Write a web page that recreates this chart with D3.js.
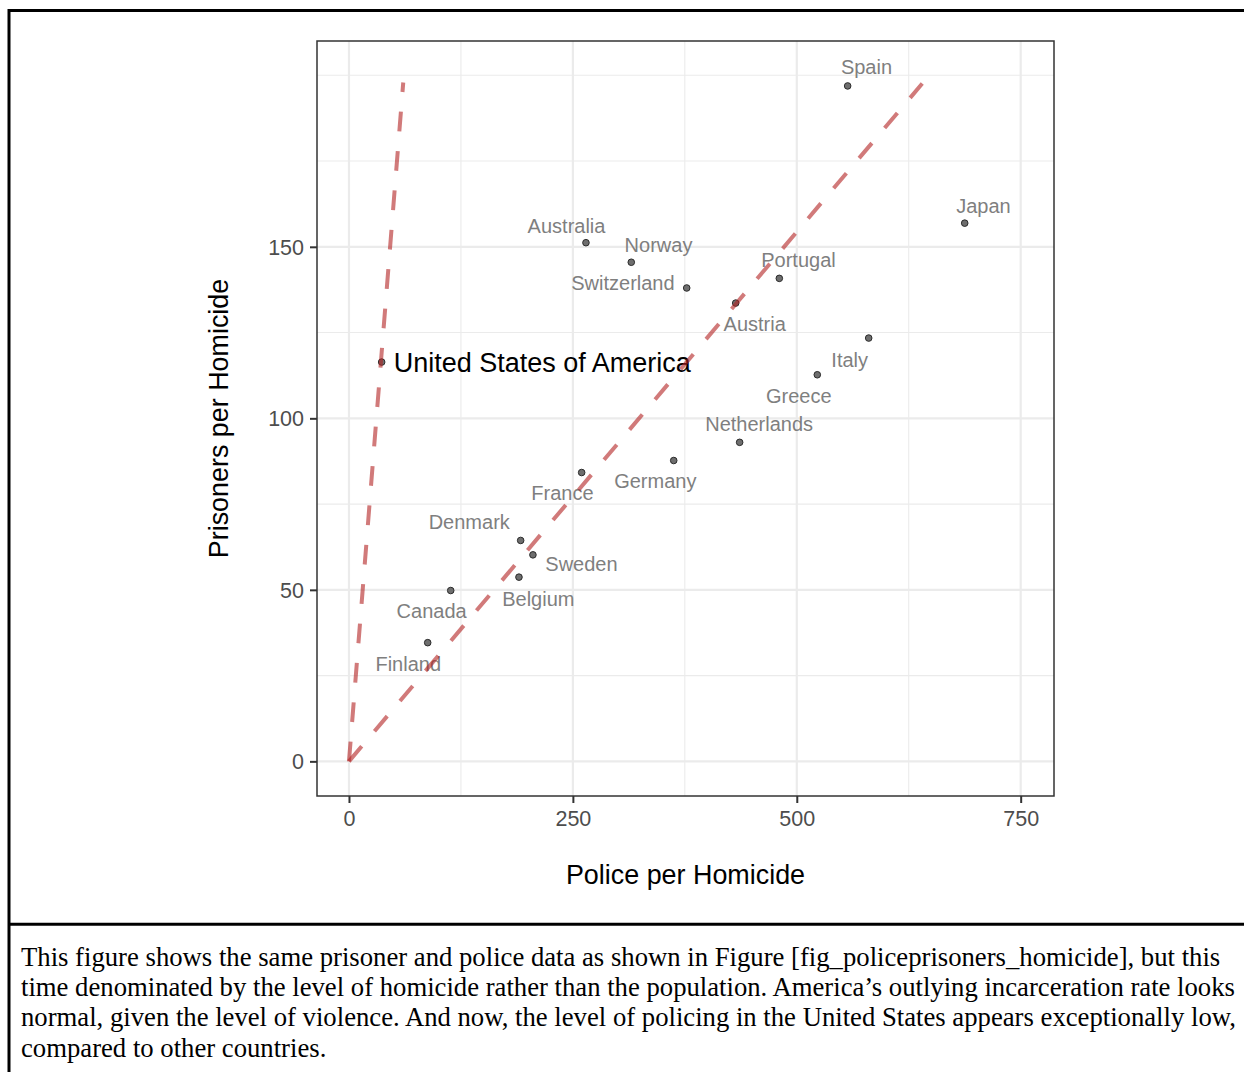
<!DOCTYPE html>
<html>
<head>
<meta charset="utf-8">
<script src="https://cdn.jsdelivr.net/npm/d3@7"></script>
<style>
  html, body { margin: 0; padding: 0; background: #fff; }
  svg { display: block; }
</style>
</head>
<body>
<script>
// ---- data ----
const countries = ["Spain","Japan","Australia","Norway","Switzerland","Portugal","Austria",
  "United States of America","Italy","Greece","Netherlands","Germany","France","Denmark",
  "Sweden","Belgium","Canada","Finland"];
const policePerHomicide = [556.8, 687.5, 264.6, 315.2, 377.1, 480.5, 431.8, 36.5, 580.3, 522.9,
  436.2, 362.6, 259.8, 191.7, 205.4, 189.8, 113.6, 87.9];
const prisonersPerHomicide = [196.9, 156.9, 151.2, 145.5, 138.0, 140.8, 133.6, 116.4, 123.4, 112.7,
  93.0, 87.7, 84.2, 64.4, 60.2, 53.7, 49.8, 34.6];
// repelled label anchors (data units)
const labelX = [577.8, 708.5, 242.9, 345.6, 305.9, 501.9, 453.0, 215.8, 559.1, 502.2,
  458.0, 342.0, 238.4, 134.3, 259.6, 211.4, 92.3, 66.2];
const labelY = [200.3, 159.9, 154.1, 148.4, 137.4, 144.0, 125.6, 113.4, 115.0, 104.5,
  96.3, 79.6, 76.1, 67.6, 55.5, 45.4, 41.7, 26.4];
// reference rays from the origin
const rayEndX = [60.6, 640.1];
const rayEndY = [197.9, 197.6];
const xTicks = [0, 250, 500, 750];
const yTicks = [0, 50, 100, 150];
const xMinor = [125, 375, 625];
const yMinor = [25, 75, 125, 175, 200];
const xTitle = "Police per Homicide";
const yTitle = "Prisoners per Homicide";
const highlight = "United States of America";
const captionLines = [
  "This figure shows the same prisoner and police data as shown in Figure [fig_policeprisoners_homicide], but this",
  "time denominated by the level of homicide rather than the population. America\u2019s outlying incarceration rate looks",
  "normal, given the level of violence. And now, the level of policing in the United States appears exceptionally low,",
  "compared to other countries."
];

// ---- layout ----
const W = 1244, H = 1072;
const panel = {left: 317, right: 1054, top: 41, bottom: 796};
const sans = "'Liberation Sans', Arial, sans-serif";

const svg = d3.select("body").append("svg").attr("width", W).attr("height", H);

const x = d3.scaleLinear().domain([-35.7, 787.2]).range([panel.left, panel.right]);
const y = d3.scaleLinear().domain([-10.1, 210.0]).range([panel.bottom, panel.top]);

// frame around figure + caption
svg.append("line").attr("x1", 9).attr("x2", W + 5).attr("y1", 10.5).attr("y2", 10.5)
  .attr("stroke", "#000").attr("stroke-width", 3);
svg.append("line").attr("x1", 9).attr("x2", 9).attr("y1", 9).attr("y2", H + 5)
  .attr("stroke", "#000").attr("stroke-width", 3);
svg.append("line").attr("x1", 9).attr("x2", W + 5).attr("y1", 924.3).attr("y2", 924.3)
  .attr("stroke", "#000").attr("stroke-width", 3);

// panel background
svg.append("rect").attr("x", panel.left).attr("y", panel.top)
  .attr("width", panel.right - panel.left).attr("height", panel.bottom - panel.top)
  .attr("fill", "#fff");

const grid = svg.append("g");
// minor grid
grid.selectAll(".xminor").data(xMinor).join("line")
  .attr("x1", d => x(d)).attr("x2", d => x(d)).attr("y1", panel.top).attr("y2", panel.bottom)
  .attr("stroke", "#ebebeb").attr("stroke-width", 1.1);
grid.selectAll(".yminor").data(yMinor).join("line")
  .attr("y1", d => y(d)).attr("y2", d => y(d)).attr("x1", panel.left).attr("x2", panel.right)
  .attr("stroke", "#ebebeb").attr("stroke-width", 1.1);
// major grid
grid.selectAll(".xmajor").data(xTicks).join("line")
  .attr("x1", d => x(d)).attr("x2", d => x(d)).attr("y1", panel.top).attr("y2", panel.bottom)
  .attr("stroke", "#ebebeb").attr("stroke-width", 2.2);
grid.selectAll(".ymajor").data(yTicks).join("line")
  .attr("y1", d => y(d)).attr("y2", d => y(d)).attr("x1", panel.left).attr("x2", panel.right)
  .attr("stroke", "#ebebeb").attr("stroke-width", 2.2);

const pts = countries.map((c, i) => ({
  name: c, px: policePerHomicide[i], py: prisonersPerHomicide[i], lx: labelX[i], ly: labelY[i]
}));

// labels
svg.append("g").selectAll("text").data(pts).join("text")
  .attr("x", d => x(d.lx)).attr("y", d => y(d.ly))
  .attr("text-anchor", "middle")
  .attr("font-family", sans)
  .attr("font-size", d => d.name === highlight ? 27 : 20)
  .attr("fill", d => d.name === highlight ? "#000" : "#7f7f7f")
  .text(d => d.name);

// points
svg.append("g").selectAll("circle").data(pts).join("circle")
  .attr("cx", d => x(d.px)).attr("cy", d => y(d.py)).attr("r", 3.3)
  .attr("fill", "#6e6e6e").attr("stroke", "#2b2b2b").attr("stroke-width", 1);

// rays
const rays = rayEndX.map((ex, i) => ({ex, ey: rayEndY[i]}));
svg.append("g").selectAll("line").data(rays).join("line")
  .attr("x1", x(0)).attr("y1", y(0))
  .attr("x2", d => x(d.ex)).attr("y2", d => y(d.ey))
  .attr("stroke", "#b22222").attr("stroke-opacity", 0.6)
  .attr("stroke-width", 4).attr("stroke-dasharray", "19.75 19.75");

// panel border
svg.append("rect").attr("x", panel.left).attr("y", panel.top)
  .attr("width", panel.right - panel.left).attr("height", panel.bottom - panel.top)
  .attr("fill", "none").attr("stroke", "#333").attr("stroke-width", 1.5);

// axes
const xAxis = d3.axisBottom(x).tickValues(xTicks).tickSize(7).tickPadding(8);
const yAxis = d3.axisLeft(y).tickValues(yTicks).tickSize(7).tickPadding(8);
const gx = svg.append("g").attr("transform", `translate(0,${panel.bottom})`).call(xAxis);
const gy = svg.append("g").attr("transform", `translate(${panel.left},0)`).call(yAxis);
[gx, gy].forEach(g => {
  g.select(".domain").remove();
  g.selectAll(".tick line").attr("stroke", "#333").attr("stroke-width", 2);
  g.selectAll(".tick text").attr("font-family", sans).attr("font-size", 21.5).attr("fill", "#4d4d4d");
});
gx.selectAll(".tick text").attr("dy", null).attr("y", 30);
gy.selectAll(".tick text").attr("dy", "0.35em").attr("x", -13);

// axis titles
svg.append("text").attr("x", (panel.left + panel.right) / 2).attr("y", 884.3)
  .attr("text-anchor", "middle").attr("font-family", sans).attr("font-size", 26.9)
  .attr("fill", "#000").text(xTitle);
svg.append("text")
  .attr("transform", `translate(228,${(panel.top + panel.bottom) / 2}) rotate(-90)`)
  .attr("text-anchor", "middle").attr("font-family", sans).attr("font-size", 26.9)
  .attr("fill", "#000").text(yTitle);

// caption
svg.append("g").selectAll("text").data(captionLines).join("text")
  .attr("x", 21).attr("y", (d, i) => 965.5 + i * 30.4)
  .attr("font-family", "'Liberation Serif', 'Times New Roman', serif")
  .attr("font-size", 26.7).attr("fill", "#000")
  .text(d => d);
</script>
</body>
</html>
